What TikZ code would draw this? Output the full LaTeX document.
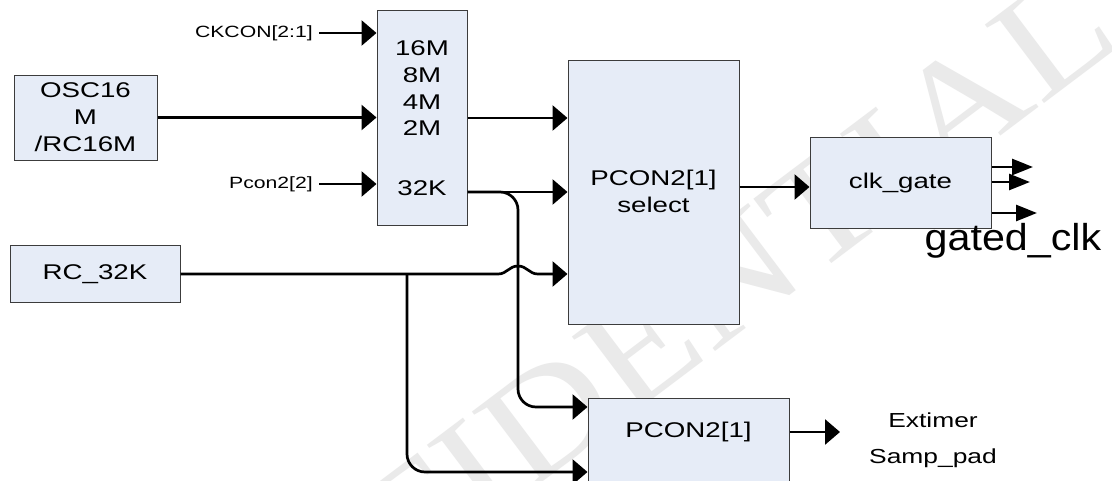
\documentclass[tikz,border=0pt]{standalone}
\usepackage{fontspec}
\setmainfont{Liberation Sans}[FakeStretch=1.3]
\newfontfamily\gfont{Liberation Sans}[FakeStretch=1.1]
\newfontfamily\wmfont{Liberation Serif}[FakeStretch=1.15]
\usetikzlibrary{arrows.meta}
\definecolor{boxfill}{RGB}{230,236,247}
\definecolor{boxline}{RGB}{60,60,60}
\definecolor{wmark}{RGB}{234,234,234}
\tikzset{
  blk/.style={draw=boxline, line width=1pt, fill=boxfill, inner sep=0pt, minimum width=#1},
  lbl/.style={inner sep=0pt, font=\fontsize{21.3}{27}\selectfont, align=center},
  small/.style={inner sep=0pt, font=\fontsize{16.3}{20}\selectfont},
  arr/.style={line width=2.7pt, -{Triangle[length=15pt,width=25pt]}},
  oarr/.style={line width=2.7pt, -{Triangle[length=21pt,width=16pt]}},
}
\begin{document}
\begin{tikzpicture}[x=1pt,y=-1pt]
\clip (0,0) rectangle (1112,480);
\fill[white] (0,0) rectangle (1112,480);
% watermark
\node[inner sep=0pt, rotate=37, text=wmark, font=\wmfont\fontsize{150}{150}\selectfont] (wm) at (590,385) {CONFIDENTIAL};
% blocks
\node[blk=143pt, minimum height=85pt] (osc) at (85.5,117.5) {};
\node[lbl] (osct) at (85.5,117.5) {OSC16\\M\\/RC16M};
\node[blk=90pt, minimum height=215pt] (mux) at (422,117.5) {};
\node[lbl] (m1) at (422,48) {16M};
\node[lbl] (m2) at (422,75) {8M};
\node[lbl] (m3) at (422,102) {4M};
\node[lbl] (m4) at (422,128) {2M};
\node[lbl] (m5) at (422,188) {32K};
\node[blk=171pt, minimum height=264pt] (sel) at (653.5,192) {};
\node[lbl] (selt) at (653.5,191.5) {PCON2[1]\\select};
\node[blk=181pt, minimum height=91pt] (gate) at (900.5,182.5) {};
\node[lbl] (gatet) at (900.5,183) {clk\_gate};
\node[blk=170pt, minimum height=57pt] (rc) at (95,274) {};
\node[lbl] (rct) at (95,274) {RC\_32K};
\node[blk=201pt, minimum height=102pt] (pc) at (688.5,449) {};
\node[lbl] (pct) at (688.5,432) {PCON2[1]};
% labels
\node[small, anchor=east] (ck) at (313,33) {CKCON[2:1]};
\node[small, anchor=east] (pc2) at (313,184) {Pcon2[2]};
\node[inner sep=0pt, font=\fontsize{20.3}{36}\selectfont, align=center] (ext) at (933,440) {Extimer\\Samp\_pad};
\node[inner sep=0pt, font=\gfont\fontsize{37.5}{40}\selectfont] (gclk) at (1013,241) {gated\_clk};
% coordinates
\coordinate (j1) at (407,274);
\coordinate (o1) at (1033,167);
\coordinate (o2) at (1030,182);
\coordinate (o3) at (1037,213);
\coordinate (o4) at (840,432);
% connectors
\draw[arr] ([xshift=6pt]ck.east) -- (mux.west |- ck.east);
\draw[arr] (osc.east) -- (mux.west |- osc.east);
\draw[arr] ([xshift=6pt]pc2.east) -- (mux.west |- pc2.east);
\draw[arr] (mux.east |- 0,118) -- (sel.west |- 0,118);
\draw[arr] (mux.east |- 0,192) -- (sel.west |- 0,192);
\draw[arr, rounded corners=18pt] (mux.east |- 0,192) -| (518,300) |- (pc.west |- 0,407);
\draw[arr] (rc.east) -- (498,274) .. controls (507,274) and (509,266) .. (518,266)
   .. controls (527,266) and (529,274) .. (538,274) -- (sel.west |- 0,274);
\draw[arr, rounded corners=18pt] (j1) |- (pc.west |- 0,472);
\draw[arr] (sel.east |- 0,187) -- (gate.west |- 0,187);
\draw[oarr] (gate.east |- o1) -- (o1);
\draw[oarr] (gate.east |- o2) -- (o2);
\draw[oarr] (gate.east |- o3) -- (o3);
\draw[arr] (pc.east |- o4) -- (o4);
\end{tikzpicture}
\end{document}
